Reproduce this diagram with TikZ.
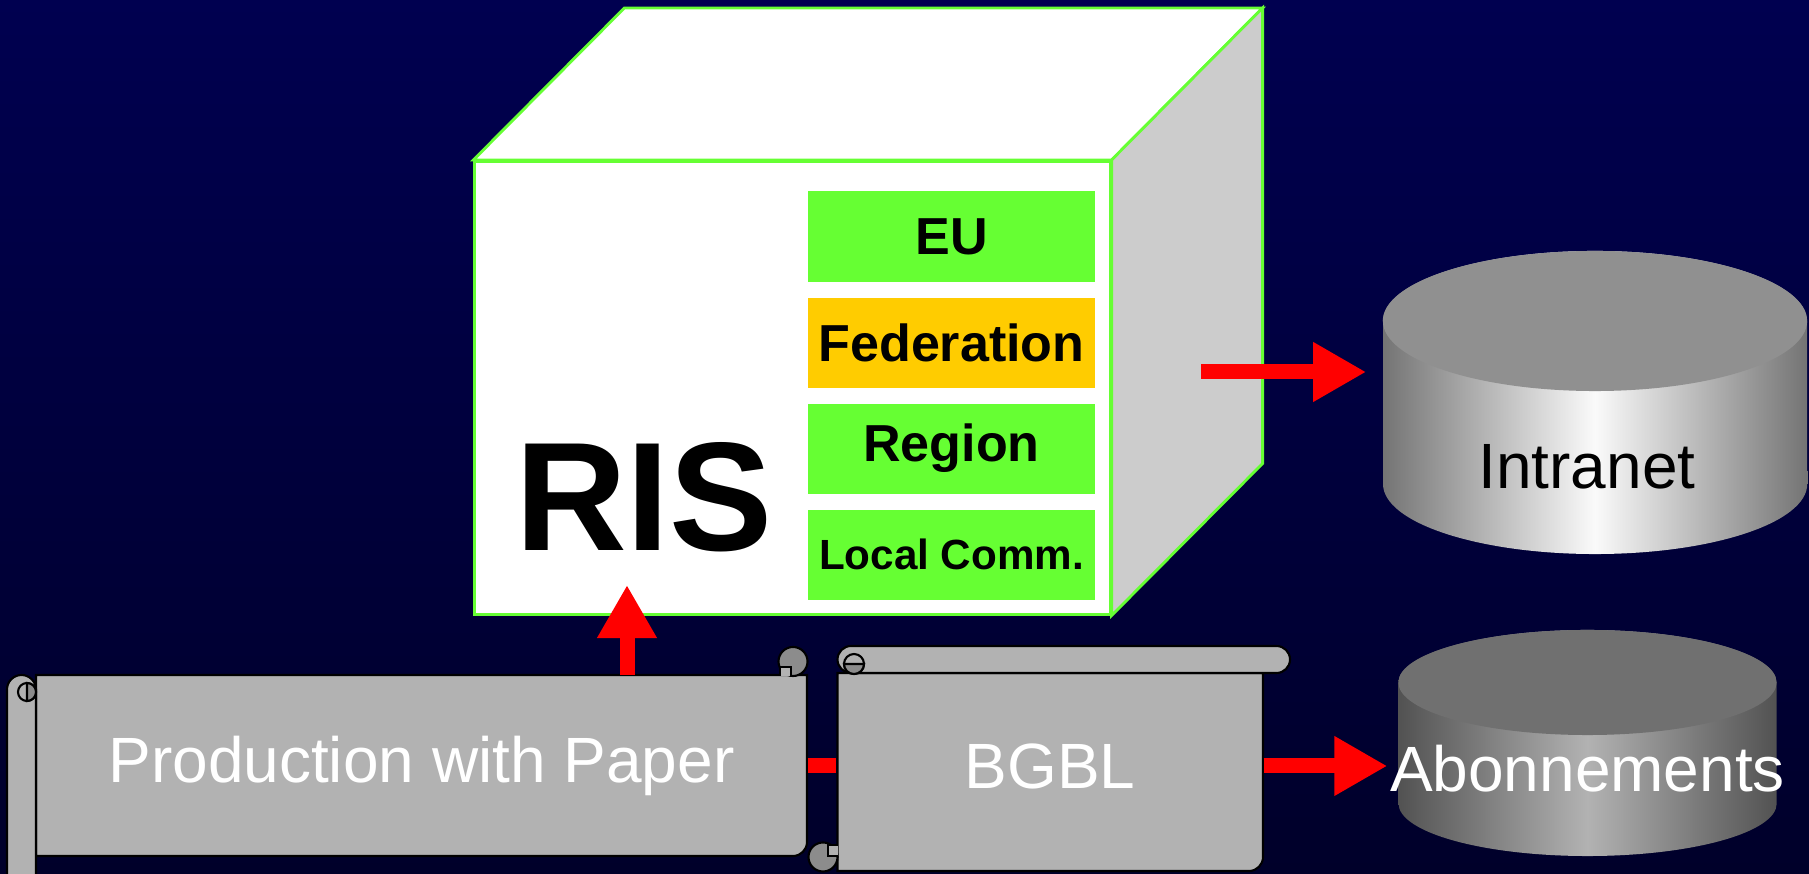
\documentclass[tikz,border=0pt]{standalone}
\usepackage{fontspec}
\setmainfont{Liberation Sans}
\usetikzlibrary{shapes,arrows.meta}
\definecolor{navytop}{RGB}{0,0,80}
\definecolor{navybottom}{RGB}{0,0,42}
\definecolor{cubegreen}{RGB}{102,255,51}
\definecolor{fedorange}{RGB}{255,204,0}
\definecolor{sidegray}{RGB}{204,204,204}
\definecolor{scrollgray}{RGB}{178,178,178}
\definecolor{scrolldark}{RGB}{140,140,140}
\definecolor{intratop}{RGB}{144,144,144}
\definecolor{intraedge}{RGB}{116,116,116}
\definecolor{intramid}{RGB}{250,250,250}
\definecolor{abotop}{RGB}{112,112,112}
\definecolor{aboedge}{RGB}{82,82,82}
\definecolor{abomid}{RGB}{178,178,178}
\tikzstyle{cubeface} = [draw=cubegreen, line width=0.8pt]
\tikzstyle{level} = [rectangle, fill=cubegreen, minimum width=2.87cm, minimum height=0.9cm, inner sep=0pt, text centered, font=\fontsize{14.8}{16}\selectfont\bfseries]
\tikzstyle{link} = [draw=red, line width=0.15cm]
\tikzstyle{line} = [link, -{Triangle[length=0.53cm,width=0.56cm]}]
\tikzstyle{scroll} = [draw=black, fill=scrollgray, line width=0.6pt]
\tikzstyle{curl} = [draw=black, fill=scrolldark, line width=0.6pt]
\tikzstyle{bigtext} = [font=\fontsize{18.2}{20}\selectfont, inner sep=0pt]
\pgfdeclarelayer{background}
\pgfsetlayers{background,main}

\begin{document}
\begin{tikzpicture}[x=0.01cm, y=-0.01cm]
    \useasboundingbox (0,0) rectangle (1809,874);

    % Place nodes
    \node [cubeface, fill=white, minimum width=6.35cm, minimum height=4.525cm, inner sep=0pt] (ris) at (792.5,387.75) {};
    \node [font=\fontsize{44}{48}\selectfont\bfseries, inner sep=0pt] (ristitle) at (644,497) {RIS};
    \node [level] (eu) at (951.5,236.5) {EU};
    \node [level, fill=fedorange, below of=eu, node distance=1.06cm] (federation) {Federation};
    \node [level, below of=federation, node distance=1.06cm] (region) {Region};
    \node [level, below of=region, node distance=1.06cm, font=\fontsize{12}{14}\selectfont\bfseries] (localcomm) {Local Comm.};
    \node [bigtext, minimum width=4.08cm] (intranet) at (1587,467) {Intranet};
    \node [bigtext, text=white, minimum width=7.71cm, minimum height=1.81cm] (prod) at (421.5,766) {Production with Paper};
    \node [bigtext, text=white, minimum width=4.255cm, minimum height=1.98cm] (bgbl) at (1050,766) {BGBL};
    \node [bigtext, text=white, minimum width=3.78cm] (abo) at (1587.5,769) {Abonnements};
    \coordinate (risside) at (1201,372);
    \coordinate (risfoot) at (627,585);

    % Draw edges
    \path [line] (risfoot |- prod.north) -- (risfoot);
    \path [line, shorten >=0.16cm] (risside) -- (risside -| intranet.west);
    \path [link] (prod.east) -- (bgbl.west);
    \path [line, shorten >=0.02cm] (bgbl.east) -- (bgbl.east -| abo.west);

    % Backdrop, cube faces, cylinders and scrolls go behind the nodes
    \begin{pgfonlayer}{background}
        \shade [top color=navytop, bottom color=navybottom] (0,0) rectangle (1809,874);
        % cube top and side
        \path [cubeface, fill=white] (ris.north west) -- ++(151,-152)
            -- ([shift={(151,-152)}]ris.north east) -- (ris.north east) -- cycle;
        \path [cubeface, fill=sidegray] (ris.north east) -- ++(151,-152)
            -- ([shift={(151,-152)}]ris.south east) -- (ris.south east) -- cycle;
        % cylinders
        \shade [left color=intraedge, right color=intraedge, middle color=intramid]
            (1383,321) -- (1383,484) arc[start angle=180, end angle=360, x radius=2.12cm, y radius=0.7cm]
            -- (1807,321) arc[start angle=0, end angle=180, x radius=2.12cm, y radius=0.7cm] -- cycle;
        \fill [intratop] (1595,321) ellipse [x radius=2.12cm, y radius=0.7cm];
        \shade [left color=aboedge, right color=aboedge, middle color=abomid]
            (1398.5,682.5) -- (1398.5,803.5) arc[start angle=180, end angle=360, x radius=1.89cm, y radius=0.525cm]
            -- (1776.5,682.5) arc[start angle=0, end angle=180, x radius=1.89cm, y radius=0.525cm] -- cycle;
        \fill [abotop] (1587.5,682.5) ellipse [x radius=1.89cm, y radius=0.525cm];
        % production scroll
        \draw [scroll] (36,675) -- (807,675) -- (807,842) arc[start angle=0, end angle=-90, radius=0.14cm]
            -- (36,856) -- cycle;
        \draw [scroll, rounded corners=0.145cm] (7,675) rectangle (36,910);
        \draw [scroll] (27,692) circle [radius=0.09cm];
        \draw [curl] (27,683) arc[start angle=90, end angle=-90, radius=0.09cm] -- cycle;
        \draw [curl] (793,661.5) circle [radius=0.145cm];
        \draw [scroll] (780,676) -- (780,667) -- (791,667) -- (791,676);
        % BGBL scroll
        \draw [scroll] (837.5,673) -- (1263,673) -- (1263,857) arc[start angle=0, end angle=-90, radius=0.14cm]
            -- (837.5,871) -- cycle;
        \draw [scroll, rounded corners=0.135cm] (837.5,646) rectangle (1290,673);
        \draw [scroll] (854,664) circle [radius=0.1cm];
        \draw [curl] (844,664) arc[start angle=180, end angle=360, radius=0.1cm] -- cycle;
        \draw [curl] (823,857) circle [radius=0.145cm];
        \draw [scroll] (837.5,845) -- (828,845) -- (828,856) -- (837.5,856);
    \end{pgfonlayer}
\end{tikzpicture}
\end{document}
